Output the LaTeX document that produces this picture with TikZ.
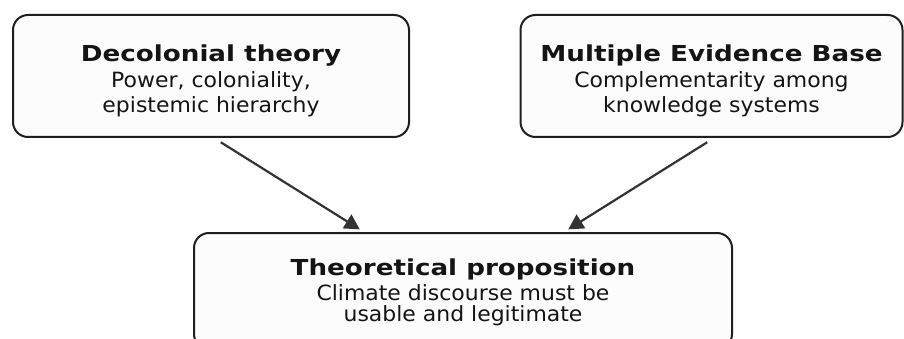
\documentclass[tikz,border=0pt]{standalone}
\usepackage{fontspec}
\setmainfont[FakeStretch=1.045]{DejaVu Sans}
\newfontfamily\titlefont[FakeStretch=1.19]{DejaVu Sans Bold}
\usepackage{xcolor}
\usepackage{tikz}
\usetikzlibrary{arrows.meta,calc}

\definecolor{boxfill}{HTML}{FCFCFC}
\definecolor{arrowgray}{HTML}{333333}

% title line of a box, with a strut that sets where the text sits
\newcommand{\boxtitle}[2][26pt]{\rule{0pt}{#1}{\titlefont\fontsize{22pt}{25pt}\selectfont #2}}

\begin{document}
\begin{tikzpicture}[x=1pt,y=-1pt]
  \tikzstyle{theory} = [draw=black!88,fill=boxfill,line width=2pt,rounded corners=15pt,
    minimum height=122pt,align=center,inner sep=0pt,text=black!92,
    font=\fontsize{21pt}{25pt}\selectfont]
  \tikzstyle{link} = [draw=arrowgray,line width=2.2pt,-{Triangle[length=15pt,width=16pt]},
    shorten <=8pt,shorten >=5pt]
  %
  \useasboundingbox (0,0) rectangle (904,339);
  \clip (0,0) rectangle (904,339);
  % Top row.
  \node[theory,minimum width=396pt] (decolonial) at (211,76)
    {\boxtitle{Decolonial theory}\\[1pt]Power, coloniality,\\epistemic hierarchy};
  \node[theory,minimum width=382pt] (meb) at (711.5,76)
    {\boxtitle{Multiple Evidence Base}\\[1pt]Complementarity among\\knowledge systems};
  % Bottom row.
  \node[theory,minimum width=538pt,minimum height=116pt] (proposition) at (463,291)
    {\boxtitle[19pt]{Theoretical proposition}\\[0.5pt]Climate discourse must be\\[-4pt]usable and legitimate};
  % Arrows.
  \draw[link] ([xshift=3pt]decolonial.south) -- ([xshift=-99pt]proposition.north);
  \draw[link] ([xshift=2.5pt]meb.south) -- ([xshift=101pt]proposition.north);
\end{tikzpicture}
\end{document}
